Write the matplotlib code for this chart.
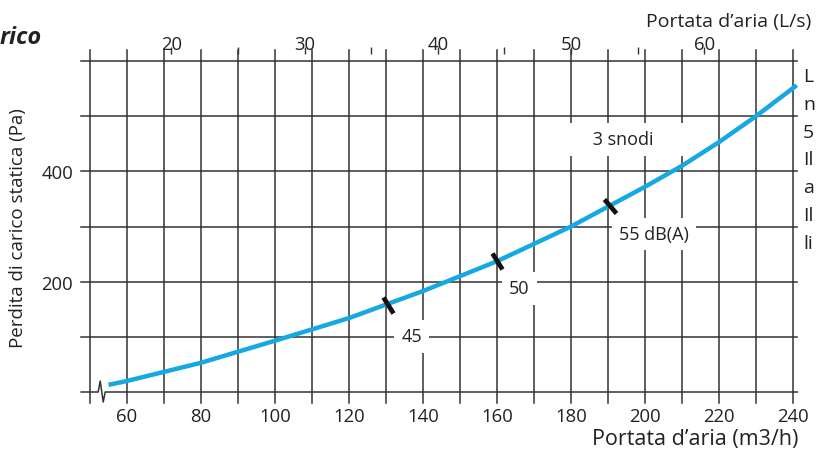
import numpy as np
import matplotlib.pyplot as plt
from matplotlib.markers import MarkerStyle

plt.rcParams['font.family'] = ['Open Sans', 'DejaVu Sans']

# curve: static pressure loss vs air flow
flow = [55, 60, 80, 100, 120, 140, 160, 180, 190, 200, 210, 220, 230, 241]
pressure = [13, 20, 53, 93, 134, 183, 237, 300, 336, 372, 410, 453, 500, 556]

# noise markers on the curve
mark_flow = [130.5, 160, 190.5]
mark_pa = [157, 237, 338]

# labels (text, x, y)
labels = ["45", "50", "55 dB(A)", "      3 snodi      "]
label_x = [137, 166, 202.5, 194]
label_y = [101, 188, 286, 458]

xticks = [60, 80, 100, 120, 140, 160, 180, 200, 220, 240]
yticks = [200, 400]
ls_major = [20, 30, 40, 50, 60]
ls_minor = [25, 35, 45, 55]

side_text = ["L", "n", "5", "Il", "a", "Il", "li"]

GRID = "#333333"
BLUE = "#15a8e3"
TXT = "#222222"

fig = plt.figure(figsize=(8.16, 4.56), dpi=100)
ax = fig.add_axes([90 / 816, 1 - 393 / 456, 703 / 816, 331 / 456])
ax.set_xlim(50, 240)
ax.set_ylim(0, 600)
for s in ax.spines.values():
    s.set_visible(False)

# grid
for x in range(50, 250, 10):
    ax.plot([x, x], [-20, 620], color=GRID, lw=1.1, clip_on=False, zorder=1)
for y in range(100, 700, 100):
    ax.plot([47.6, 241.2], [y, y], color=GRID, lw=1.1, clip_on=False, zorder=1)

# baseline with break symbol
bx = 53.3
px_x = 1 / 3.7
px_y = 600 / 331
ax.plot([47.6, bx - 4 * px_x, bx - 2 * px_x, bx + 1 * px_x, bx + 3 * px_x, 241.2],
        [0, 0, 11 * px_y, -10 * px_y, 0, 0],
        color=GRID, lw=1.1, clip_on=False, zorder=1)

ax.plot(flow, pressure, color=BLUE, lw=3.2, solid_capstyle='butt',
        clip_on=False, zorder=3)

# markers across the curve
for fx, fy in zip(mark_flow, mark_pa):
    slope = np.interp(fx + 5, flow, pressure) - np.interp(fx - 5, flow, pressure)
    ang = np.degrees(np.arctan2(slope * (331 / 600), 10 * 3.7))
    m = MarkerStyle('|')
    m._transform = m.get_transform().rotate_deg(ang + 10)
    ax.plot([fx], [fy], marker=m, ms=13, mew=3.4, color="#111111", zorder=4)

for t, x, y in zip(labels, label_x, label_y):
    ax.text(x, y, t, ha='center', va='center', fontsize=13, color=TXT, zorder=5,
            bbox=dict(boxstyle='square,pad=0.4', fc='white', ec='none'))

ax.set_xticks(xticks)
ax.set_yticks(yticks)
ax.tick_params(length=0, labelsize=13.3, labelcolor=TXT)
ax.tick_params(axis='x', pad=11)
ax.tick_params(axis='y', pad=12)

# top axis in L/s
sec = ax.secondary_xaxis((393 - 55) / 331, functions=(lambda v: v / 3.6, lambda v: v * 3.6))
sec.spines['top'].set_visible(False)
sec.set_xticks(ls_major)
sec.set_xticks(ls_minor, minor=True)
sec.tick_params(which='both', direction='out', length=5, width=1, color=GRID,
                labelsize=13.3, labelcolor=TXT, pad=-4)

fig.text(729 / 816, 1 - 22 / 456, "Portata d\u2019aria (L/s)", ha='center', va='center',
         fontsize=14, color=TXT)
fig.text(695 / 816, 1 - 440 / 456, "Portata d\u2019aria (m3/h)", ha='center', va='center',
         fontsize=15.5, color=TXT)
fig.text(18 / 816, 1 - 228 / 456, "Perdita di carico statica (Pa)", ha='center',
         va='center', rotation=90, fontsize=13.5, color=TXT)
fig.text(0 / 816, 1 - 38 / 456, "rico", ha='left', va='center',
         fontsize=17, fontweight='bold', fontstyle='italic', color=TXT)

for i, t in enumerate(side_text):
    fig.text(803 / 816, 1 - (77 + 27.8 * i) / 456, t, ha='left', va='center',
             fontsize=14, color=TXT)

fig.savefig("out.png", dpi=100)
